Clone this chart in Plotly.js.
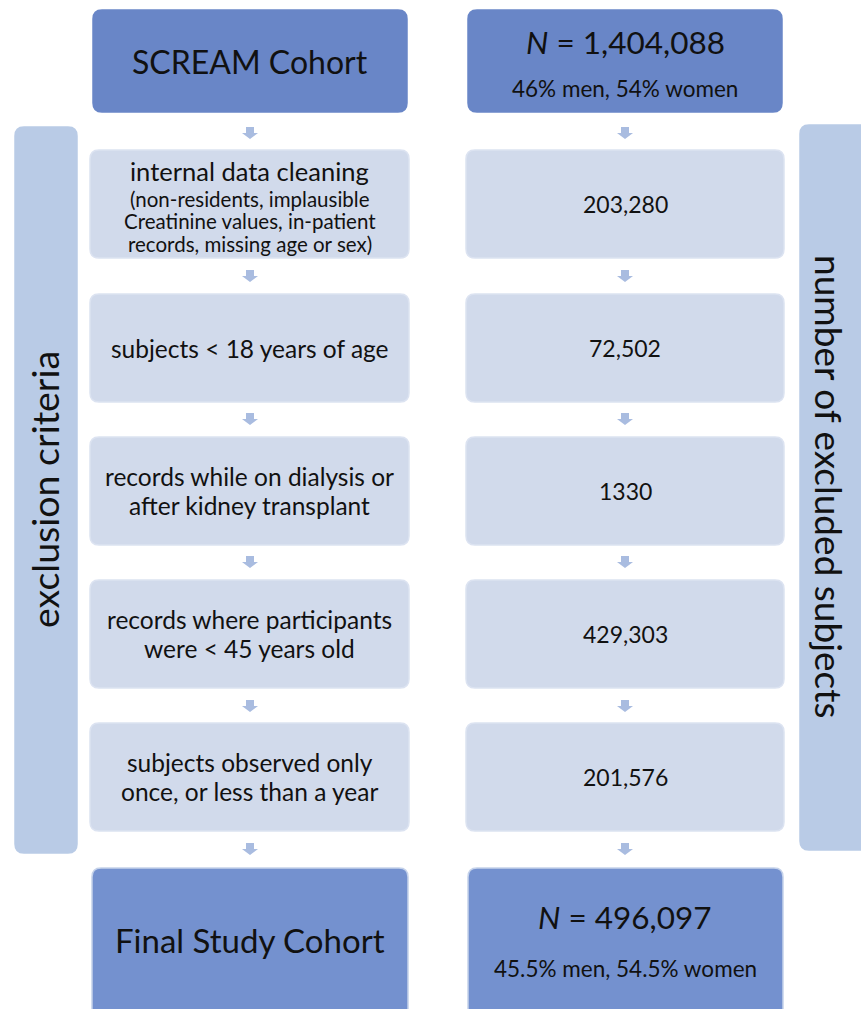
<!DOCTYPE html>
<html><head><meta charset="utf-8">
<script src="https://cdn.plot.ly/plotly-3.0.1.min.js"></script>
<style>html,body{margin:0;padding:0;background:#fff}</style>
</head><body><div id="chart" style="width:861px;height:1009px"></div>
<script>
// ---- data ----
const startLabel = "SCREAM Cohort";
const startN = "1,404,088";
const startSex = "46% men, 54% women";
const criteria = [
  ["internal data cleaning"],
  ["subjects &lt; 18 years of age"],
  ["records while on dialysis or", "after kidney transplant"],
  ["records where participants", "were &lt; 45 years old"],
  ["subjects observed only", "once, or less than a year"]
];
const criteriaNote = [
  ["(non-residents, implausible", "Creatinine values, in-patient", "records, missing age or sex)"],
  [], [], [], []
];
const excluded = ["203,280", "72,502", "1330", "429,303", "201,576"];
const finalLabel = "Final Study Cohort";
const finalN = "496,097";
const finalSex = "45.5% men, 54.5% women";
const sideLeft = "exclusion criteria";
const sideRight = "number of excluded subjects";

// ---- geometry helpers ----
function rrect(x0, y0, x1, y1, r) {
  return `M${x0+r},${y0} L${x1-r},${y0} Q${x1},${y0} ${x1},${y0+r} L${x1},${y1-r} Q${x1},${y1} ${x1-r},${y1} L${x0+r},${y1} Q${x0},${y1} ${x0},${y1-r} L${x0},${y0+r} Q${x0},${y0} ${x0+r},${y0} Z`;
}
function arrow(cx, y0) {
  const sw = 4, hw = 8, sh = 6, h = 12;
  return `M${cx-sw},${y0} L${cx+sw},${y0} L${cx+sw},${y0+sh} L${cx+hw},${y0+sh} L${cx},${y0+h} L${cx-hw},${y0+sh} L${cx-sw},${y0+sh} Z`;
}
const shapes = [];
const ann = [];
const FONT = "Lato, 'Open Sans', sans-serif";
function box(x0, y0, x1, y1, fill, line) {
  shapes.push({type: "path", xref: "x", yref: "y", path: rrect(x0, y0, x1, y1, 9),
    fillcolor: fill, line: {color: line, width: 1.5}, layer: "below"});
}
function text(x, y, t, size, angle) {
  ann.push({x: x, y: y, xref: "x", yref: "y", text: t, showarrow: false,
    font: {family: FONT, size: size, color: "#111"}, textangle: angle || 0,
    xanchor: "center", yanchor: "middle", align: "center"});
}
function lines(x, yc, arr, size, gap) {
  const n = arr.length;
  arr.forEach((t, k) => text(x, yc + (k - (n - 1) / 2) * gap, t, size));
}
const LX = [90, 409], RX = [466, 784];
const lc = (LX[0] + LX[1]) / 2, rc = (RX[0] + RX[1]) / 2;
const dark = "#6986c7", darkB = "#7491cf", mid = "#d1daeb", side = "#b9cbe6";

// side panels
box(15, 127, 77, 853, side, side);
box(800, 125, 875, 850, side, side);
text(44, 490, sideLeft, 37.5, -90);
text(830, 487, sideRight, 37, 90);

// top
box(93, 10, 407, 112, dark, dark);
box(468, 10, 782, 112, dark, dark);
text(250, 61, startLabel, 32);
text(625, 42, "<i>N</i> = " + startN, 31.5);
text(625, 88, startSex, 22.5);

// rows
const rowTop = [150, 294, 437, 580, 723];
const rowH = 108;
criteria.forEach((c, i) => {
  const y0 = rowTop[i], y1 = y0 + rowH;
  box(LX[0], y0, LX[1], y1, mid, "#dce3f1");
  box(RX[0], y0, RX[1], y1, mid, "#dce3f1");
  if (criteriaNote[i].length) {
    lines(lc, y0 + 21, c, 25.5, 29);
    lines(lc, y0 + 71, criteriaNote[i], 20.5, 22.5);
  } else {
    lines(lc, (y0 + y1) / 2, c, 24.5, 29);
  }
  text(rc, (y0 + y1) / 2, excluded[i], 23);
});

// arrows
const arrowY = [127, 270, 413, 556, 700, 843];
arrowY.forEach(y => {
  shapes.push({type: "path", xref: "x", yref: "y", path: arrow(250, y), fillcolor: "#a9bce0", line: {width: 0}});
  shapes.push({type: "path", xref: "x", yref: "y", path: arrow(625, y), fillcolor: "#a9bce0", line: {width: 0}});
});

// final
box(92, 868, 408, 1030, darkB, "#c5d2ea");
box(468, 868, 783, 1030, darkB, "#c5d2ea");
text(250, 940, finalLabel, 33);
text(625, 917, "<i>N</i> = " + finalN, 31.5);
text(625, 968, finalSex, 22.5);

const layout = {
  width: 861, height: 1009,
  margin: {l: 0, r: 0, t: 0, b: 0},
  paper_bgcolor: "#fff", plot_bgcolor: "#fff",
  xaxis: {range: [0, 861], visible: false, fixedrange: true},
  yaxis: {range: [1009, 0], visible: false, fixedrange: true},
  shapes: shapes, annotations: ann, showlegend: false
};
Plotly.newPlot("chart", [{x: [], y: [], type: "scatter"}], layout, {displayModeBar: false, staticPlot: true});
</script></body></html>
